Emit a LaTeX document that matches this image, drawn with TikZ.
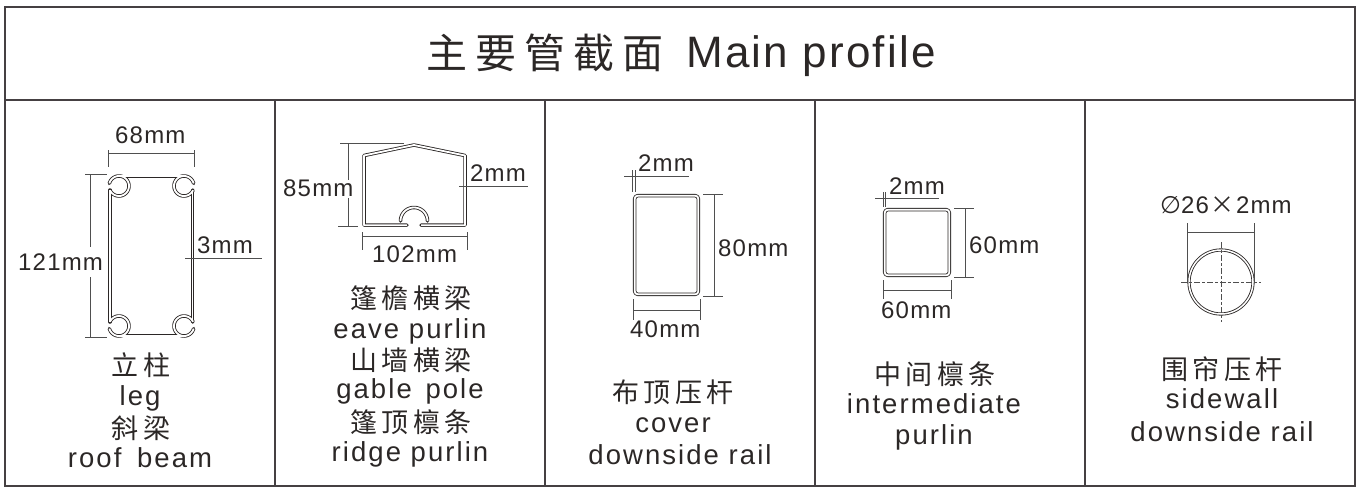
\documentclass[tikz,border=0pt]{standalone}
\usepackage{fontspec}
\setmainfont{Liberation Sans}
\newfontfamily\lblfont[LetterSpace=5]{Liberation Sans}
\newfontfamily\capfont[LetterSpace=7.5]{Liberation Sans}
\newfontfamily\titfont[LetterSpace=5]{Liberation Sans}
\newfontfamily\cjk[LetterSpace=16]{Noto Sans CJK SC}
\newfontfamily\cjktit[LetterSpace=20]{Noto Sans CJK SC}
\newfontfamily\cjkplain{Noto Sans CJK SC}
\newfontfamily\symfont{DejaVu Sans}
\definecolor{ink}{HTML}{2B2726}
\definecolor{framec}{HTML}{454042}
\definecolor{dim}{HTML}{4F4F4F}
\tikzset{
 x=1pt,y=-1pt,
 frame/.style={draw=framec,line width=2pt},
 tube/.style={draw=ink,line width=3.5pt,line join=round,line cap=round},
 tubein/.style={draw=white,line width=1.8pt,line join=round},
 dimline/.style={draw=dim,line width=0.9pt},
 lbl/.style={inner sep=0pt,text=ink,font=\fontsize{24}{24}\selectfont\lblfont,anchor=base west},
 enc/.style={inner sep=0pt,text=ink,font=\fontsize{27.5}{27.5}\selectfont\capfont,anchor=base},
 zhc/.style={inner sep=0pt,text=ink,font=\fontsize{27}{27}\selectfont\cjk,anchor=base},
}
\newcommand{\ringseg}[5]{\draw[#1] plot[smooth,domain=#4:#5,samples=40] ({#2+10*cos(\x)},{#3+10*sin(\x)});}
\newcommand{\legshape}[1]{%
 \draw[#1] (119,176.3) -- (184,176.3);
 \draw[#1] (119,335.7) -- (184,335.7);
 \draw[#1] (110,190) -- (110,322);
 \draw[#1] (192.5,190) -- (192.5,322);
 \ringseg{#1}{119}{186}{195}{515}
 \ringseg{#1}{184}{186}{-15}{-335}
 \ringseg{#1}{119}{326}{165}{-155}
 \ringseg{#1}{184}{326}{15}{335}
}
\newcommand{\eaveshape}[1]{%
 \draw[#1] (407,225.2) -- (364,225.2) -- (364,155.5) -- (414,145) -- (465,155.5) -- (465,225.2) -- (421,225.2);
 \draw[#1] plot[smooth,domain=180:360,samples=30] ({414+13.5*cos(\x)},{221+13.5*sin(\x)});
}
\begin{document}
\begin{tikzpicture}
\useasboundingbox (0,0) rectangle (1358,488);
\draw[frame] (4.5,6.5) rectangle (1355,486);
\draw[frame] (4.5,99.5) -- (1355,99.5);
\foreach \x in {275,545,815,1085} \draw[frame] (\x,99.5) -- (\x,486);
% title
\node[inner sep=0pt,text=ink,anchor=base west,font=\fontsize{41}{41}\selectfont\cjktit] (tzh) at (426,68) {主要管截面};
\node[inner sep=0pt,text=ink,anchor=base west,font=\fontsize{44}{44}\selectfont\titfont] (ten) at (686,67) {Main profile};
% ---- column 1
\legshape{tube}
\legshape{tubein}
\draw[dimline] (108.5,153) -- (194,153);
\draw[dimline] (108.5,150) -- (108.5,167);
\draw[dimline] (194,150) -- (194,167);
\draw[dimline] (90.5,174) -- (90.5,247);
\draw[dimline] (90.5,277) -- (90.5,337);
\draw[dimline] (85,174) -- (107,174);
\draw[dimline] (85,337) -- (107,337);
\draw[dimline] (185,258) -- (262,258);
\node[lbl] (a1) at (115,143) {68mm};
\node[lbl] (a2) at (18,270) {121mm};
\node[lbl] (a3) at (197,253) {3mm};
\node[zhc] (c11) at (141,375) {立柱};
\node[enc] (c12) at (140,405) {leg};
\node[zhc] (c13) at (141,438) {斜梁};
\node[enc] (c14) at (140,467) {roof\hspace{6pt} beam};
% ---- column 2
\eaveshape{tube}
\eaveshape{tubein}
\draw[dimline] (348,143) -- (348,180);
\draw[dimline] (348,198) -- (348,226);
\draw[dimline] (340,143) -- (404,143);
\draw[dimline] (338,226) -- (358,226);
\draw[dimline] (459,186) -- (528,186);
\draw[dimline] (362,236) -- (467,236);
\draw[dimline] (362,232) -- (362,250);
\draw[dimline] (467,232) -- (467,250);
\node[lbl] (b1) at (283,196) {85mm};
\node[lbl] (b2) at (470,181) {2mm};
\node[lbl] (b3) at (372,262) {102mm};
\node[zhc] (c21) at (411,308) {篷檐横梁};
\node[enc] (c22) at (410,338) {eave purlin};
\node[zhc] (c23) at (411,370) {山墙横梁};
\node[enc] (c24) at (410,398) {gable\hspace{4pt} pole};
\node[zhc] (c25) at (411,432) {篷顶檩条};
\node[enc] (c26) at (410,461) {ridge purlin};
% ---- column 3
\draw[tube,rounded corners=3pt] (634.7,195.7) rectangle (698.3,294.3);
\draw[tubein,rounded corners=3pt] (634.7,195.7) rectangle (698.3,294.3);
\draw[dimline] (624,176) -- (689,176);
\draw[dimline] (632.5,170) -- (632.5,192);
\draw[dimline] (635.5,170) -- (635.5,192);
\draw[dimline] (714,194) -- (714,296);
\draw[dimline] (703,194) -- (723,194);
\draw[dimline] (703,296) -- (723,296);
\draw[dimline] (633,310) -- (700,310);
\draw[dimline] (633,299) -- (633,320);
\draw[dimline] (700,299) -- (700,320);
\node[lbl] (d1) at (638,171) {2mm};
\node[lbl] (d2) at (718,256) {80mm};
\node[lbl] (d3) at (630,337) {40mm};
\node[zhc] (c31) at (673,402) {布顶压杆};
\node[enc] (c32) at (673,432) {cover};
\node[enc] (c33) at (680,464) {downside rail};
% ---- column 4
\draw[tube,rounded corners=3pt] (884.7,209.7) rectangle (949.3,275.3);
\draw[tubein,rounded corners=3pt] (884.7,209.7) rectangle (949.3,275.3);
\draw[dimline] (875,198) -- (939,198);
\draw[dimline] (883,192) -- (883,207);
\draw[dimline] (885.5,192) -- (885.5,207);
\draw[dimline] (965,208) -- (965,277);
\draw[dimline] (954,208) -- (974,208);
\draw[dimline] (954,277) -- (974,277);
\draw[dimline] (883,290) -- (951,290);
\draw[dimline] (883,280) -- (883,299);
\draw[dimline] (951,280) -- (951,299);
\node[lbl] (e1) at (889,194) {2mm};
\node[lbl] (e2) at (969,253) {60mm};
\node[lbl] (e3) at (881,318) {60mm};
\node[zhc] (c41) at (935,384) {中间檩条};
\node[enc] (c42) at (934,413) {intermediate};
\node[enc] (c43) at (934,444) {purlin};
% ---- column 5
\draw[draw=ink,line width=3.2pt] (1221,282) circle (32);
\draw[draw=white,line width=1.5pt] (1221,282) circle (32);
\draw[dimline] (1187,232) -- (1254,232);
\draw[dimline] (1187,223) -- (1187,283);
\draw[dimline] (1254,223) -- (1254,283);
\draw[dimline,dash pattern=on 6pt off 2pt on 3pt off 2pt] (1181,282) -- (1261,282);
\draw[dimline,dash pattern=on 6pt off 2pt on 3pt off 2pt] (1221,242) -- (1221,322);
\node[lbl] (f1) at (1160,213) {{\symfont ∅}26{\cjkplain\hspace{1pt}×\hspace{2pt}}2mm};
\node[zhc] (c51) at (1222,379) {围帘压杆};
\node[enc] (c52) at (1222,408) {sidewall};
\node[enc] (c53) at (1222,441) {downside rail};
\end{tikzpicture}
\end{document}
